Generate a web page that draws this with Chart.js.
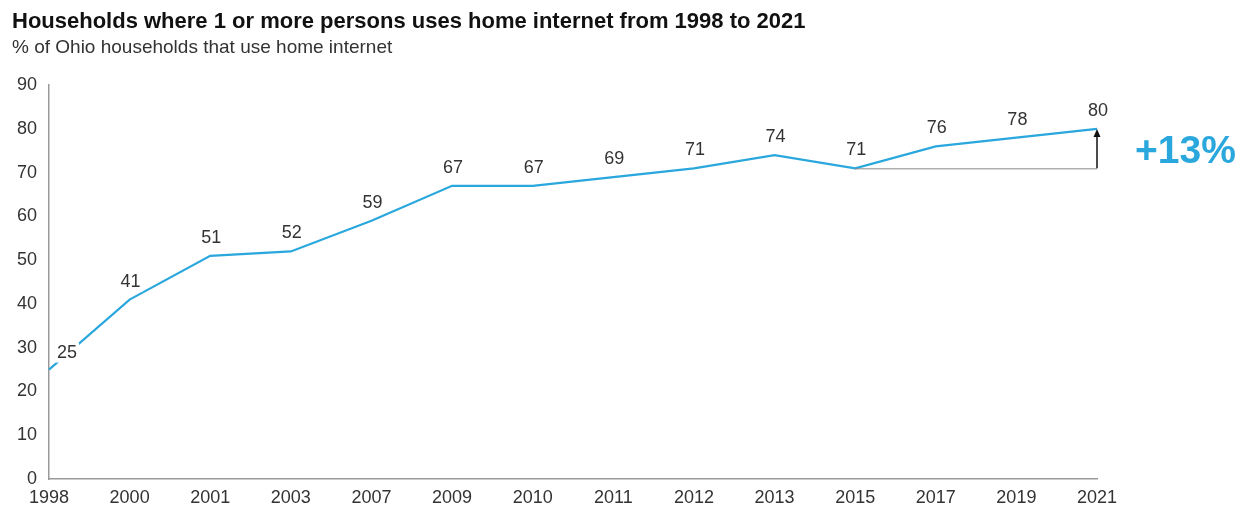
<!DOCTYPE html>
<html>
<head>
<meta charset="utf-8">
<script src="https://cdn.jsdelivr.net/npm/chart.js@4"></script>
<style>
  html, body { margin: 0; padding: 0; background: #fff; }
  #wrap { width: 1245px; height: 508px; }
</style>
</head>
<body>
<div id="wrap"><canvas id="myChart"></canvas></div>
<script>
const years = ["1998", "2000", "2001", "2003", "2007", "2009", "2010", "2011", "2012", "2013", "2015", "2017", "2019", "2021"];
const households = [25, 41, 51, 52, 59, 67, 67, 69, 71, 74, 71, 76, 78, 80];
const yTicks = [0, 10, 20, 30, 40, 50, 60, 70, 80, 90];
const changeFrom = "2015";
const changeTo = "2021";
const changeLabel = "+13%";

const blue = "#2aa7dc";
const font = "'Liberation Sans', Arial, sans-serif";

// valores em cima de cada ponto
const pointLabels = {
  id: "pointLabels",
  afterDatasetsDraw(chart) {
    const ctx = chart.ctx;
    const meta = chart.getDatasetMeta(0);
    ctx.save();
    ctx.font = "18px " + font;
    ctx.textAlign = "center";
    ctx.textBaseline = "middle";
    meta.data.forEach((pt, i) => {
      let x = pt.x + 1, y = pt.y - 18;
      if (i === 0) { x = pt.x + 18; y = pt.y - 17; }
      const w = ctx.measureText(String(households[i])).width;
      ctx.fillStyle = "#fff";
      ctx.fillRect(x - w / 2 - 2, y - 10, w + 4, 20);
      ctx.fillStyle = "#333";
      ctx.fillText(String(households[i]), x, y);
    });
    ctx.restore();
  }
};

// seta de variação 2015 -> 2021
const changeArrow = {
  id: "changeArrow",
  afterDatasetsDraw(chart) {
    const ctx = chart.ctx;
    const xs = chart.scales.x, ys = chart.scales.y;
    const i0 = years.indexOf(changeFrom), i1 = years.indexOf(changeTo);
    const x0 = xs.getPixelForValue(i0), x1 = xs.getPixelForValue(i1);
    const y0 = ys.getPixelForValue(households[i0]), y1 = ys.getPixelForValue(households[i1]);
    ctx.save();
    ctx.strokeStyle = "#888";
    ctx.lineWidth = 1;
    ctx.beginPath();
    ctx.moveTo(x0, y0 + 0.5);
    ctx.lineTo(x1, y0 + 0.5);
    ctx.stroke();
    ctx.strokeStyle = "#111";
    ctx.lineWidth = 1.5;
    ctx.beginPath();
    ctx.moveTo(x1, y0);
    ctx.lineTo(x1, y1 + 4);
    ctx.stroke();
    ctx.fillStyle = "#111";
    ctx.beginPath();
    ctx.moveTo(x1, y1);
    ctx.lineTo(x1 - 3.5, y1 + 8);
    ctx.lineTo(x1 + 3.5, y1 + 8);
    ctx.closePath();
    ctx.fill();
    ctx.font = "bold 39px " + font;
    ctx.fillStyle = blue;
    ctx.textAlign = "left";
    ctx.textBaseline = "middle";
    ctx.fillText(changeLabel, x1 + 38, (y0 + y1) / 2 + 4);
    ctx.restore();
  }
};

const ctx = document.getElementById("myChart").getContext("2d");
const myChart = new Chart(ctx, {
  type: "line",
  data: {
    labels: years,
    datasets: [{
      label: "% of Ohio households that use home internet",
      data: households,
      borderColor: blue,
      borderWidth: 2.2,
      pointRadius: 0,
      tension: 0,
      fill: false
    }]
  },
  options: {
    responsive: true,
    maintainAspectRatio: false,
    animation: false,
    layout: { padding: { left: 12, right: 148, top: 0, bottom: 0 } },
    plugins: {
      legend: { display: false },
      tooltip: { enabled: false },
      title: {
        display: true,
        text: "Households where 1 or more persons uses home internet from 1998 to 2021",
        align: "start",
        color: "#111",
        font: { family: font, size: 22, weight: "bold" },
        padding: { top: 9, bottom: 1 }
      },
      subtitle: {
        display: true,
        text: "% of Ohio households that use home internet",
        align: "start",
        color: "#333",
        font: { family: font, size: 19 },
        padding: { top: 0, bottom: 26 }
      }
    },
    scales: {
      x: {
        offset: false,
        grid: { display: false },
        border: { display: true, color: "#999", width: 1.5 },
        ticks: {
          color: "#333",
          font: { family: font, size: 18 },
          maxRotation: 0,
          autoSkip: false,
          padding: 0
        },
        afterFit(s) { s.height = 29; }
      },
      y: {
        min: 0,
        max: 90,
        grid: { display: false },
        border: { display: true, color: "#999", width: 1.5 },
        afterBuildTicks(s) { s.ticks = yTicks.map(v => ({ value: v })); },
        ticks: {
          color: "#333",
          font: { family: font, size: 18 },
          padding: 4
        },
        afterFit(s) { s.width = 37; }
      }
    }
  },
  plugins: [pointLabels, changeArrow]
});
</script>
</body>
</html>
